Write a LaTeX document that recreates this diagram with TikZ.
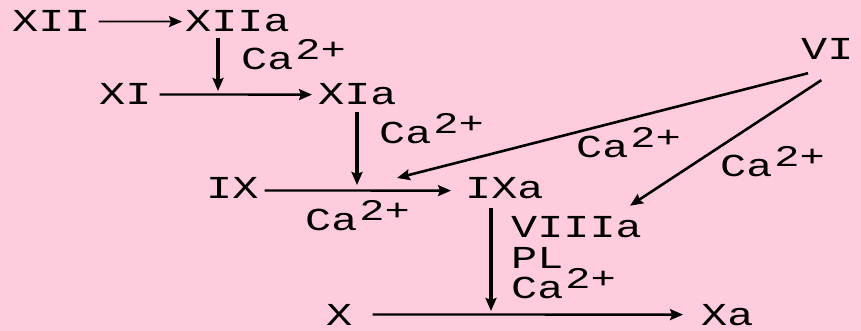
\documentclass[tikz,border=0pt]{standalone}
\usepackage{fontspec}
\usepackage{graphicx}
\setmonofont{Liberation Mono}
\usetikzlibrary{arrows.meta,calc}
\definecolor{bgpink}{RGB}{255,204,221}
% wide monospace lettering used for every label
\newcommand{\wlbl}[1]{\scalebox{1.36}[1]{\ttfamily\fontsize{32}{36}\selectfont #1}}
\newcommand{\caion}{\wlbl{Ca}\hspace{2pt}\raisebox{10pt}{\scalebox{1.4}[1]{\ttfamily\fontsize{30}{32}\selectfont 2+}}}
\begin{document}
\begin{tikzpicture}[x=1pt,y=-1pt,
  lbl/.style={anchor=base west,inner sep=0pt,text=black},
  arr/.style={-{Stealth[length=13pt,width=11pt,inset=2pt]},line width=2.4pt,black},
  varr/.style={arr,line width=3.2pt}]
\fill[bgpink] (0,0) rectangle (861,331);
\useasboundingbox (0,0) rectangle (861,331);

% factor names
\node[lbl] (XII)   at (12,32)   {\wlbl{XII}};
\node[lbl] (XIIa)  at (185,32)  {\wlbl{XIIa}};
\node[lbl] (XI)    at (99,105)  {\wlbl{XI}};
\node[lbl] (XIa)   at (318,105) {\wlbl{XIa}};
\node[lbl] (VI)    at (801,60)  {\wlbl{VI}};
\node[lbl] (IX)    at (206,198) {\wlbl{IX}};
\node[lbl] (IXa)   at (465,198) {\wlbl{IXa}};
\node[lbl] (VIIIa) at (511,237) {\wlbl{VIIIa}};
\node[lbl] (PL)    at (511,268) {\wlbl{PL}};
\node[lbl] (X)     at (326,325) {\wlbl{X}};
\node[lbl] (Xa)    at (701,325) {\wlbl{Xa}};

% calcium labels
\node[lbl] (caA) at (241,70)  {\caion};
\node[lbl] (caB) at (379,144) {\caion};
\node[lbl] (caC) at (576,158) {\caion};
\node[lbl] (caD) at (720,177) {\caion};
\node[lbl] (caE) at (305,230) {\caion};
\node[lbl] (caF) at (511,298) {\caion};

% points where activating arrows meet the conversion arrows
\coordinate (j1) at (218,91);
\coordinate (j2) at (357,185);
\coordinate (j3) at (397,178);
\coordinate (j4) at (491,311);

% conversions
\draw[arr,line width=1.8pt] ([xshift=8pt]XII.east) -- ([xshift=-3pt]XIIa.west);
\draw[arr] ([xshift=8pt]XI.east) -- ([xshift=-6pt]XIa.west);
\draw[arr] ([xshift=6pt,yshift=-3pt]IX.east) -- ([xshift=-14pt,yshift=-3pt]IXa.west);
\draw[arr] ([xshift=20pt]X.east) -- ([xshift=-18pt]Xa.west);

% activations
\draw[varr] ($(j1 |- XIIa.south)+(0,5)$) -- (j1);
\draw[varr] ($(j2 |- XIa.south)+(0,6)$) -- (j2);
\draw[varr] ($(j4 |- IXa.south)+(0,9)$) -- (j4);
\draw[arr,line width=2.6pt] ($(VI.south west)+(7,13)$) -- (j3);
\draw[arr,line width=2.6pt] ($(VI.south)+(-6,20)$) -- ($(VIIIa.north east)+(-12,-10)$);
\end{tikzpicture}
\end{document}
